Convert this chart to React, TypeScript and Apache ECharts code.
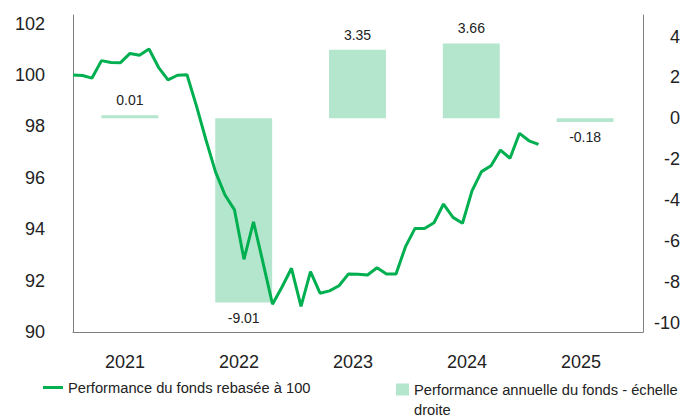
import React, { useEffect, useRef } from "react";
import * as echarts from "echarts";

const years = ["2021", "2022", "2023", "2024", "2025"];
const annualPerf = [0.01, -9.01, 3.35, 3.66, -0.18];
// month index 0 = Dec 2020 ... 49 = Jan 2025
const navRebased = [
  100.0, 99.98, 99.88, 100.56, 100.49, 100.48, 100.84, 100.77, 101.01, 100.3,
  99.81, 99.99, 100.01, 98.79, 97.47, 96.23, 95.33, 94.75, 92.83, 94.29,
  92.7, 91.08, 91.75, 92.48, 91.0, 92.35, 91.51, 91.6, 91.8, 92.26,
  92.25, 92.22, 92.5, 92.26, 92.26, 93.32, 94.03, 94.03, 94.25, 94.98,
  94.46, 94.23, 95.49, 96.24, 96.47, 97.08, 96.76, 97.73, 97.44, 97.3,
];
const leftTicks = { min: 90, max: 102, step: 2 };
const rightTicks = { min: -10, max: 4, step: 2 };

const LINE_NAME = "Performance du fonds rebasée à 100";
const BAR_NAME = "Performance annuelle du fonds - échelle";
const BAR_NAME_WRAP = "droite";

export default function App() {
  const ref = useRef<HTMLDivElement>(null);
  useEffect(() => {
    if (!ref.current) return;
    const chart = echarts.init(ref.current, null, { renderer: "svg" });
    const font = "Liberation Sans, Arial, sans-serif";
    const txt = "#222222";
    const axisCol = "#808080";
    const L = 73;
    const R = 40;
    chart.setOption({
      animation: false,
      textStyle: { fontFamily: font, color: txt },
      grid: [
        { left: L, right: R, top: 15, bottom: 85 },
        { left: L, right: R, top: 23.6, bottom: 85 },
        { left: L, right: R, top: 36.5, bottom: 94.2 },
      ],
      xAxis: [
        {
          type: "category",
          gridIndex: 0,
          data: years,
          axisLine: { show: true, lineStyle: { color: axisCol, width: 1 } },
          axisTick: { show: false },
          axisLabel: {
            fontSize: 18,
            color: txt,
            fontFamily: font,
            margin: 21,
            padding: [0, 10, 0, 0],
          },
        },
        {
          type: "value",
          gridIndex: 1,
          min: 0,
          max: 60,
          show: false,
        },
        {
          type: "category",
          gridIndex: 2,
          data: years,
          show: false,
        },
      ],
      yAxis: [
        {
          type: "value",
          gridIndex: 0,
          position: "left",
          min: 0,
          max: 1,
          axisLine: { show: true, lineStyle: { color: axisCol, width: 1 } },
          axisTick: { show: false },
          axisLabel: { show: false },
          splitLine: { show: false },
        },
        {
          type: "value",
          gridIndex: 1,
          position: "left",
          min: leftTicks.min,
          max: leftTicks.max,
          interval: leftTicks.step,
          axisLine: { show: false },
          axisTick: { show: false },
          splitLine: { show: false },
          axisLabel: { fontSize: 18, color: txt, fontFamily: font, margin: 28 },
        },
        {
          type: "value",
          gridIndex: 2,
          position: "right",
          min: rightTicks.min,
          max: rightTicks.max,
          interval: rightTicks.step,
          axisLine: { show: false },
          axisTick: { show: false },
          splitLine: { show: false },
          axisLabel: {
            fontSize: 18,
            color: txt,
            fontFamily: font,
            margin: 38,
            align: "right",
          },
        },
        {
          type: "value",
          gridIndex: 0,
          position: "right",
          min: 0,
          max: 1,
          axisLine: { show: true, lineStyle: { color: axisCol, width: 1 } },
          axisTick: { show: false },
          axisLabel: { show: false },
          splitLine: { show: false },
        },
      ],
      legend: [
        {
          data: [LINE_NAME],
          left: 43,
          top: 380,
          padding: 0,
          icon: "rect",
          itemWidth: 20,
          itemHeight: 3,
          textStyle: { fontSize: 14.7, color: txt, fontFamily: font },
        },
        {
          data: [BAR_NAME],
          left: 396,
          top: 382,
          padding: 0,
          icon: "rect",
          itemWidth: 13,
          itemHeight: 12,
          textStyle: { fontSize: 14.7, color: txt, fontFamily: font },
        },
      ],
      graphic: [
        {
          type: "text",
          left: 414,
          top: 402,
          style: {
            text: BAR_NAME_WRAP,
            fontSize: 14.7,
            fontFamily: font,
            fill: txt,
          },
        },
      ],
      series: [
        {
          name: BAR_NAME,
          type: "bar",
          xAxisIndex: 2,
          yAxisIndex: 2,
          barWidth: "50%",
          barMinHeight: 3,
          z: 2,
          itemStyle: { color: "#b3e6cc" },
          data: annualPerf.map((v) => ({
            value: v,
            label: {
              show: true,
              position: v >= 0 ? "top" : "bottom",
              distance: 8,
              fontSize: 14,
              color: txt,
              fontFamily: font,
              formatter: v.toFixed(2),
            },
          })),
        },
        {
          name: LINE_NAME,
          type: "line",
          xAxisIndex: 1,
          yAxisIndex: 1,
          z: 3,
          symbol: "none",
          lineStyle: { color: "#00b050", width: 3 },
          itemStyle: { color: "#00b050" },
          data: navRebased.map((v, i) => [i, v]),
        },
      ],
    });
    return () => chart.dispose();
  }, []);
  return (
    <div
      ref={ref}
      style={{ position: "fixed", left: 0, top: 0, width: 683, height: 417, background: "#fff" }}
    />
  );
}
